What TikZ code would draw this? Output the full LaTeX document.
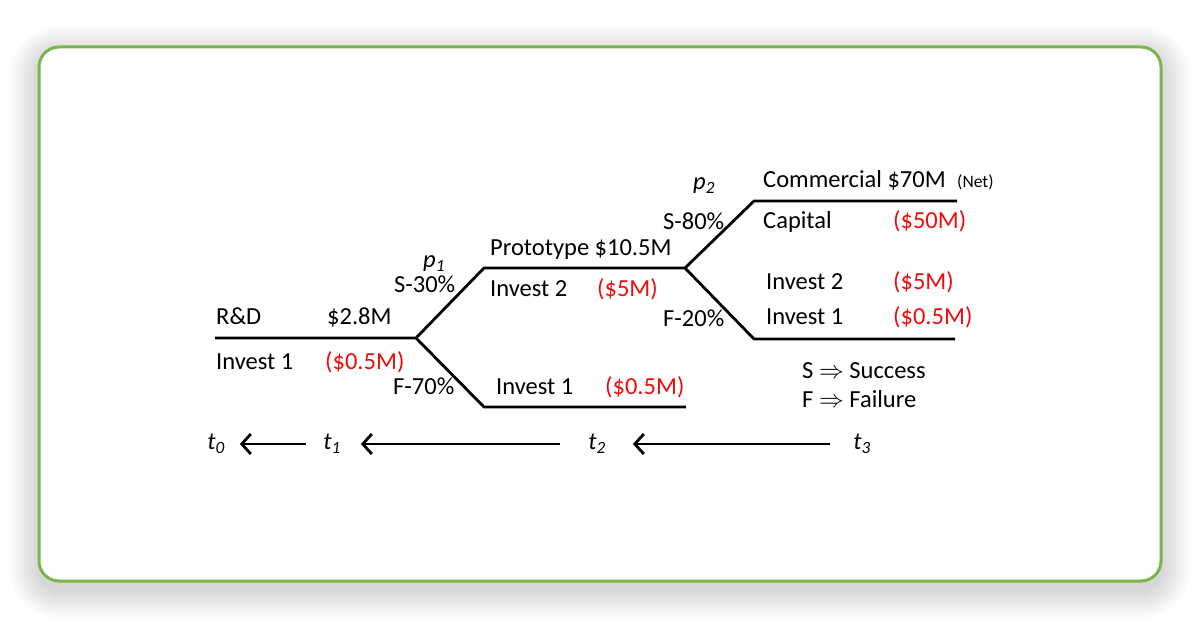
\documentclass[tikz,border=0pt]{standalone}
\usepackage{fontspec}
\setmainfont{Carlito}
\usepackage{tikz}
\usepackage{xcolor}
\usetikzlibrary{arrows.meta}
\definecolor{frame-green}{RGB}{122,182,75}
\definecolor{cost-red}{RGB}{240,12,12}
\tikzset{
    frame-box/.style = {draw=frame-green, fill=white, line width=3pt, rounded corners=20pt},
    tree-line/.style = {line width=2.8pt, line join=round},
    label-text/.style = {anchor=base west, inner sep=0pt, font=\fontsize{24.5}{29}\selectfont},
    cost-text/.style = {label-text, text=cost-red},
    prob-text/.style = {label-text, font=\fontsize{24.5}{29}\selectfont\itshape},
    time-label/.style = {inner sep=0pt, font=\fontsize{24.5}{29}\selectfont\itshape},
    time-arrow/.style = {line width=2.8pt, -{Straight Barb[length=9pt, width=20pt, line width=2.8pt]}},
}

\begin{document}
\begin{tikzpicture}[x=1pt, y=-1pt]
\useasboundingbox (0,0) rectangle (1200,628);
\fill[white] (0,0) rectangle (1200,628);
\foreach \s in {1,...,20}
    \fill[black, opacity=0.009, rounded corners={(20+1.5*\s)*1pt}] ({39-1.5*\s},{47-1.5*\s+8}) rectangle ({1161+1.5*\s},{581+1.5*\s+8});
\draw[frame-box] (39,47) rectangle (1161,581);

\coordinate (rd-start) at (215,338);
\coordinate (b1) at (416,338);
\coordinate (s1) at (484,268);
\coordinate (b2) at (685,268);
\coordinate (f1) at (484,407);
\coordinate (f1-end) at (686,407);
\coordinate (s2) at (754,201);
\coordinate (s2-end) at (957,201);
\coordinate (f2) at (754,339);
\coordinate (f2-end) at (955,339);

\draw[tree-line] (rd-start) -- (b1) -- (s1) -- (b2) -- (s2) -- (s2-end);
\draw[tree-line] (b1) -- (f1) -- (f1-end);
\draw[tree-line] (b2) -- (f2) -- (f2-end);

\node[label-text] (rd) at (216,325) {R\&D};
\node[label-text] (rd-value) at (327,325) {\$2.8M};
\node[label-text] (rd-invest) at (216,370) {Invest 1};
\node[cost-text] (rd-cost) at (325,370) {(\$0.5M)};

\node[prob-text] (p1) at (423,268) {p\textsubscript{1}};
\node[label-text] (s30) at (394,293) {S-30\%};
\node[label-text] (f70) at (393,395) {F-70\%};

\node[label-text] (proto) at (490,256) {Prototype \$10.5M};
\node[label-text] (proto-invest) at (490,297) {Invest 2};
\node[cost-text] (proto-cost) at (597,297) {(\$5M)};
\node[label-text] (fail-invest) at (496,395) {Invest 1};
\node[cost-text] (fail-cost) at (605,395) {(\$0.5M)};

\node[prob-text] (p2) at (693,190) {p\textsubscript{2}};
\node[label-text] (s80) at (663,230) {S-80\%};
\node[label-text] (f20) at (663,327) {F-20\%};

\node[label-text] (comm) at (763,188) {Commercial \$70M};
\node[label-text, font=\fontsize{17.5}{21}\selectfont] (net) at (957,188) {(Net)};
\node[label-text] (capital) at (763,229) {Capital};
\node[cost-text] (capital-cost) at (893,229) {(\$50M)};
\node[label-text] (f2-invest2) at (766,290) {Invest 2};
\node[cost-text] (f2-cost2) at (893,290) {(\$5M)};
\node[label-text] (f2-invest1) at (766,325) {Invest 1};
\node[cost-text] (f2-cost1) at (893,325) {(\$0.5M)};

\node[label-text] (key-s) at (802,378) {S $\Rightarrow$ Success};
\node[label-text] (key-f) at (802,407) {F $\Rightarrow$ Failure};

\node[time-label] (t0) at (216,444) {t\textsubscript{0}};
\node[time-label] (t1) at (332,444) {t\textsubscript{1}};
\node[time-label] (t2) at (597,444) {t\textsubscript{2}};
\node[time-label] (t3) at (862,444) {t\textsubscript{3}};
\draw[time-arrow, shorten <=17pt, shorten >=15pt] (t1.west) -- (t0.east);
\draw[time-arrow, shorten <=28pt, shorten >=20pt] (t2.west) -- (t1.east);
\draw[time-arrow, shorten <=23pt, shorten >=27pt] (t3.west) -- (t2.east);
\end{tikzpicture}
\end{document}
